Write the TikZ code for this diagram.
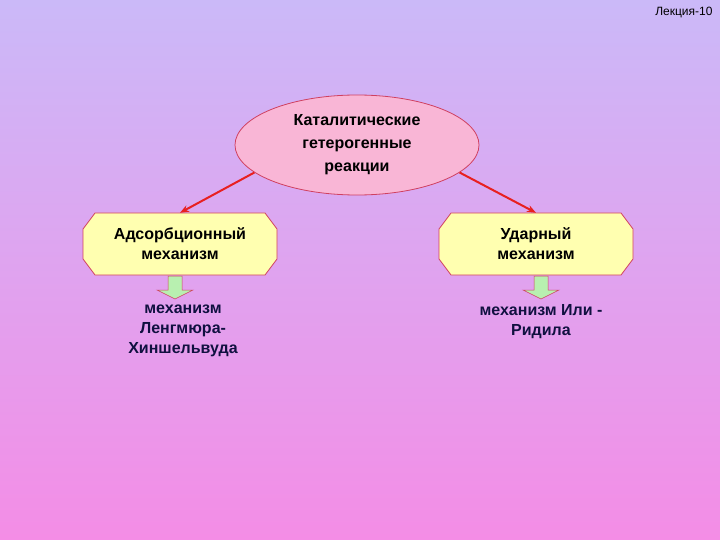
\documentclass[tikz,border=0pt]{standalone}
\usepackage{fontspec}
\setmainfont{Liberation Sans}
\usetikzlibrary{shapes.geometric,arrows.meta}
\definecolor{bgtop}{HTML}{CBB9F8}
\definecolor{bgbot}{HTML}{F48DE6}
\definecolor{ellf}{HTML}{F9B6D6}
\definecolor{octf}{HTML}{FFFFB0}
\definecolor{bord}{HTML}{D04060}
\definecolor{arr}{HTML}{E82020}
\definecolor{grn}{HTML}{B8F0B0}
\definecolor{txtb}{HTML}{101040}
\begin{document}
\begin{tikzpicture}[x=1pt,y=-1pt,
  oct/.style={minimum width=194pt,minimum height=62pt,inner sep=0pt,align=center,font=\bfseries\fontsize{16}{20}\selectfont},
  octline/.style={draw=bord,fill=octf,line width=0.8pt},
  lbl/.style={align=center,font=\bfseries\fontsize{16}{20}\selectfont,text=txtb},
  con/.style={draw=arr,line width=2pt,-{Stealth[length=9pt,width=7pt]}},
  barr/.style={fill=grn,draw=bord,line width=0.5pt}]
\shade[top color=bgtop,bottom color=bgbot] (0,0) rectangle (720,540);
\useasboundingbox (0,0) rectangle (720,540);
\node[anchor=north east,font=\fontsize{12}{14}\selectfont] (lek) at (716,4) {Лекция-10};
\node[ellipse,draw=bord,fill=ellf,line width=0.8pt,minimum width=244pt,minimum height=100pt,inner sep=0pt,align=center,font=\bfseries\fontsize{16}{23}\selectfont] (top) at (357,145) {Каталитические\\гетерогенные\\реакции};
\foreach \cx in {180,536}{
  \filldraw[octline] (\cx-85,213) -- (\cx+85,213) -- (\cx+97,229) -- (\cx+97,259) -- (\cx+85,275) -- (\cx-85,275) -- (\cx-97,259) -- (\cx-97,229) -- cycle;
}
\node[oct] (l) at (180,244) {Адсорбционный\\механизм};
\node[oct] (r) at (536,244) {Ударный\\механизм};
\draw[con] (top.195) -- (l.north);
\draw[con] (top.-15) -- (r.north);
\foreach \cx in {175,541}{
  \filldraw[barr] (\cx-7,276) -- (\cx+7,276) -- (\cx+7,290) -- (\cx+18,290) -- (\cx,299) -- (\cx-18,290) -- (\cx-7,290) -- cycle;
}
\node[lbl,anchor=north] (lt) at (183,301) {механизм\\Ленгмюра-\\Хиншельвуда};
\node[lbl,anchor=north] (rt) at (541,301) {механизм Или -\\Ридила};
\end{tikzpicture}
\end{document}
